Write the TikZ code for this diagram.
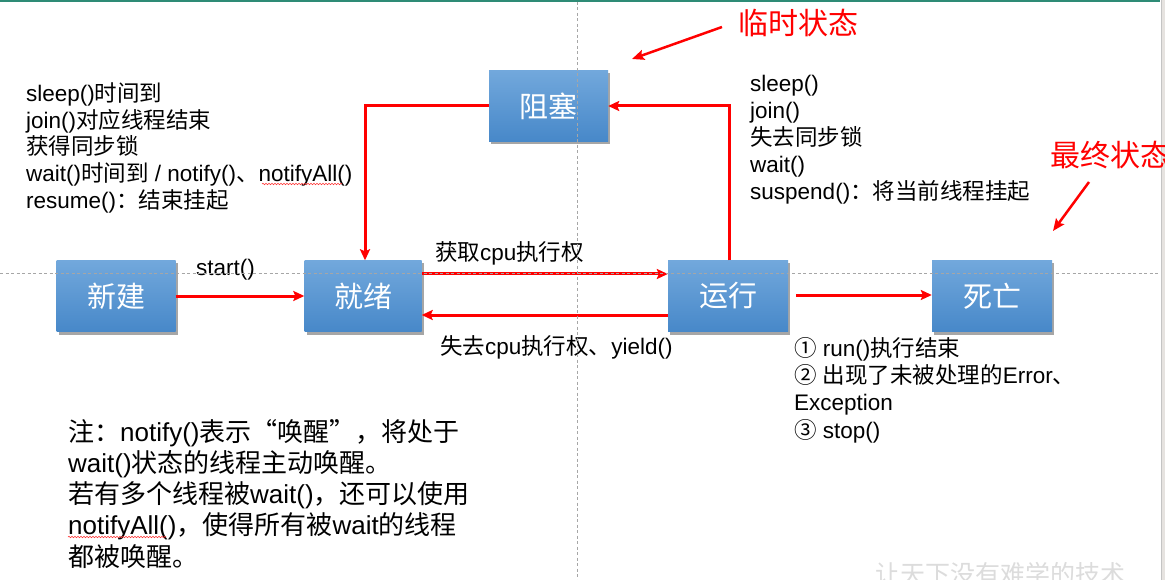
\documentclass[tikz,border=0pt]{standalone}
\usepackage{fontspec}
\setmainfont{Liberation Sans}
\newfontfamily\cjk{Noto Sans CJK SC}
\usetikzlibrary{arrows.meta,shadows,decorations.pathmorphing}
\newcommand\zh[1]{{\cjk #1}}
\definecolor{boxtop}{HTML}{72A8DC}
\definecolor{boxbot}{HTML}{4788C9}
\definecolor{guide}{HTML}{A6A6A6}
\definecolor{topline}{HTML}{2E8B76}
\definecolor{edgegrey}{HTML}{E6E3E0}
\definecolor{edgeline}{HTML}{C4C4C4}
\definecolor{wm}{HTML}{DCDCDC}
\begin{document}
\begin{tikzpicture}[x=1pt,y=-1pt,
 state/.style={minimum width=119pt,minimum height=71pt,inner sep=0pt,top color=boxtop,bottom color=boxbot,text=white,font=\cjk\fontsize{29}{32}\selectfont,drop shadow={shadow xshift=2pt,shadow yshift=-3pt,opacity=0.35,fill=black}},
 redarr/.style={draw=red,line width=3pt,-{Stealth[length=11pt,width=10pt,inset=2pt]}},
 ptr/.style={draw=red,line width=2.5pt,-{Stealth[length=12pt,width=10pt,inset=2pt]}},
 lbl/.style={inner sep=0pt,anchor=base west,align=left,font=\fontsize{22.5}{26.8}\selectfont},
 redlbl/.style={text=red,font=\cjk\fontsize{30}{32}\selectfont,inner sep=0pt},
 guideline/.style={draw=guide,line width=0.9pt,dash pattern=on 3pt off 2.5pt},
 squig/.style={draw=red!80,line width=0.6pt,decorate,decoration={snake,segment length=3pt,amplitude=0.7pt}}
]
\useasboundingbox (0,0) rectangle (1165,580);
\fill[white] (0,0) rectangle (1165,580);
\fill[edgegrey] (1161,0) rectangle (1165,580);
\draw[edgeline,line width=1pt] (1161,0) -- (1161,580);
\fill[topline] (0,0) rectangle (1160,2);

% states
\node[state] (xj) at (116,296) {新建};
\node[state,minimum width=117pt] (jx) at (363,296) {就绪};
\node[state,minimum width=120pt] (yx) at (728,296) {运行};
\node[state,minimum width=120pt] (sw) at (992,296) {死亡};
\node[state] (zs) at (548.5,106) {阻塞};

% connectors
\draw[redarr] (xj.east) -- (jx.west);
\draw[redarr] ([yshift=22pt]jx.east) -- ([yshift=22pt]yx.west);
\draw[redarr] ([yshift=-19pt]yx.west) -- ([yshift=-19pt]jx.east);
\draw[redarr] ([xshift=8pt,yshift=1pt]yx.east) -- ([yshift=1pt]sw.west);
\draw[redarr] ([xshift=1pt]yx.north) |- (zs.east);
\draw[redarr] (zs.west) -| ([xshift=2pt]jx.north);

% red labels
\node[redlbl] (ls) at (798,23) {临时状态};
\node[redlbl,anchor=west] (zz) at (1050,155) {最终状态};
\coordinate (p1s) at (722,27);
\coordinate (p1e) at (632,59);
\draw[ptr] (p1s) -- (p1e);
\coordinate (p2s) at (1089,182);
\coordinate (p2e) at (1053,231);
\draw[ptr] (p2s) -- (p2e);

% texts (multi-line nodes anchored at the baseline of their last line)
\node[lbl] (t1) at (26,208.5) {sleep()\zh{时间到}\\
join()\zh{对应线程结束}\\
\zh{获得同步锁}\\
wait()\zh{时间到} / notify()\zh{、}notifyAll()\\
resume()\zh{：结束挂起}};
\node[lbl,font=\fontsize{22.5}{27}\selectfont] (t2) at (750,199.5) {sleep()\\
join()\\
\zh{失去同步锁}\\
wait()\\
suspend()\zh{：将当前线程挂起}};
\node[lbl] (t3) at (435,260.5) {\zh{获取}cpu\zh{执行权}};
\node[lbl] (t4) at (440,354) {\zh{失去}cpu\zh{执行权、}yield()};
\node[lbl] (t5) at (196,275.5) {start()};
\node[lbl,font=\fontsize{22.5}{27.2}\selectfont] (t6) at (794,438) {\zh{①} run()\zh{执行结束}\\
\zh{②} \zh{出现了未被处理的}Error\zh{、}\\
Exception\\
\zh{③} stop()};
\node[lbl,font=\fontsize{26}{31.2}\selectfont] (t7) at (68,566) {\zh{注：}notify()\zh{表示“唤醒”，将处于}\\
wait()\zh{状态的线程主动唤醒。}\\
\zh{若有多个线程被}wait()\zh{，还可以使用}\\
notifyAll()\zh{，使得所有被}wait\zh{的线程}\\
\zh{都被唤醒。}};
\node[inner sep=0pt,anchor=base west,text=wm,font=\cjk\fontsize{25}{25}\selectfont] (wmk) at (875,583) {让天下没有难学的技术};

% spell-check marks
\draw[squig] (262,184) -- (342,184);
\draw[squig] (68,537) -- (166,537);

% guides
\draw[guideline] (0,273) -- (1160,273);
\draw[guideline] (577,2) -- (577,580);
\end{tikzpicture}
\end{document}
